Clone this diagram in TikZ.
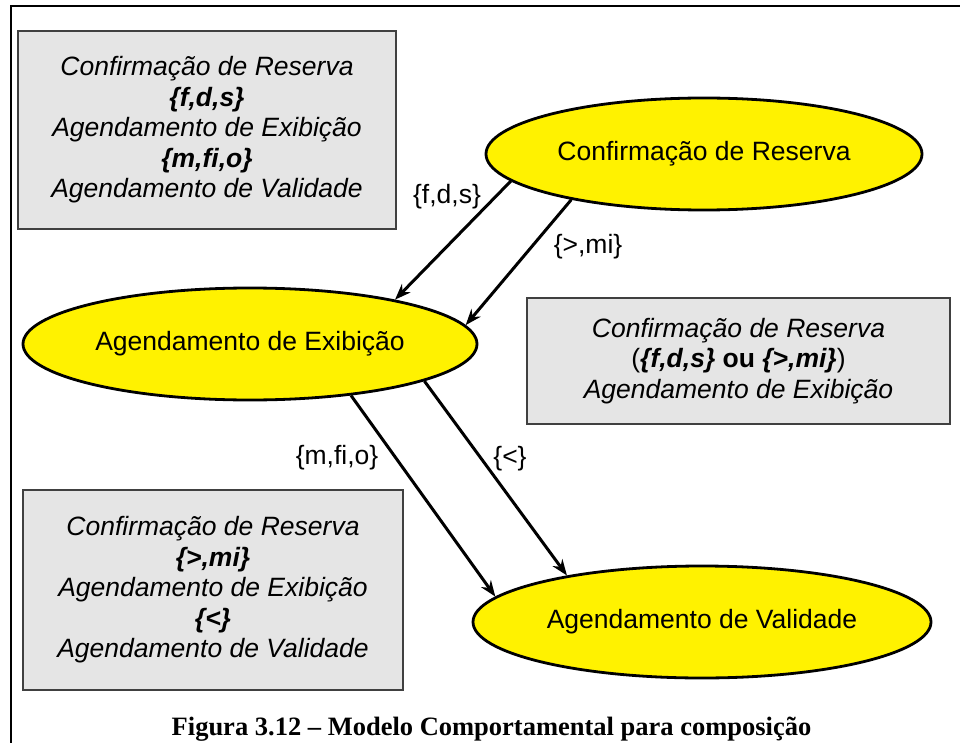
\documentclass[tikz,border=0pt]{standalone}
\usepackage{fontspec}
\setmainfont{Liberation Serif}
\setsansfont{Liberation Sans}
\usetikzlibrary{shapes.geometric,arrows.meta}
\begin{document}
\begin{tikzpicture}[x=1pt,y=-1pt,
  txt/.style={font=\sffamily\fontsize{26.5}{30.5}\selectfont},
  oval/.style={ellipse,draw=black,line width=2.8pt,fill=yellow,inner sep=0pt,txt},
  infobox/.style={rectangle,draw=black!75,line width=1.8pt,fill=black!10,inner sep=0pt,align=center,txt},
  lbl/.style={txt,inner sep=0pt},
  conn/.style={line width=3pt,-{Stealth[length=16pt,width=12pt]}},
  frame/.style={line width=2.5pt}]
\useasboundingbox (0,0) rectangle (960,743);
\draw[frame] (960,6) -- (11,6) -- (11,743);

\node[infobox,minimum width=378pt,minimum height=198pt] (b1) at (207,130)
  {\itshape Confirmação de Reserva\\ \bfseries\itshape \{f,d,s\}\\ \itshape Agendamento de Exibição\\ \bfseries\itshape \{m,fi,o\}\\ \itshape Agendamento de Validade};
\node[infobox,minimum width=423pt,minimum height=126pt] (b2) at (738.5,361)
  {\itshape Confirmação de Reserva\\ ({\bfseries\itshape \{f,d,s\}} {\bfseries ou} {\bfseries\itshape \{>,mi\}})\\ \itshape Agendamento de Exibição};
\node[infobox,minimum width=380pt,minimum height=200pt] (b3) at (213,590)
  {\itshape Confirmação de Reserva\\ \bfseries\itshape \{>,mi\}\\ \itshape Agendamento de Exibição\\ \bfseries\itshape \{<\}\\ \itshape Agendamento de Validade};

\node[oval,minimum width=436pt,minimum height=112pt] (cr) at (704,154) {Confirmação de Reserva};
\node[oval,minimum width=454pt,minimum height=112pt] (ae) at (250,344) {Agendamento de Exibição};
\node[oval,minimum width=458pt,minimum height=112pt] (av) at (702,622) {Agendamento de Validade};

\draw[conn] (cr.188.8) -- (ae.17.8);
\draw[conn] (cr.199.9) -- (ae.5.8);
\draw[conn] (ae.333.2) -- (av.173.2);
\draw[conn] (ae.348.2) -- (av.161.4);

\node[lbl] (l1) at (447,197) {\{f,d,s\}};
\node[lbl] (l2) at (588,247) {\{>,mi\}};
\node[lbl] (l3) at (337,458) {\{m,fi,o\}};
\node[lbl] (l4) at (510,459) {\{<\}};

\node[font=\rmfamily\bfseries\fontsize{26.5}{30}\selectfont,inner sep=0pt] (cap) at (491.5,729) {Figura 3.12 – Modelo Comportamental para composição};
\end{tikzpicture}
\end{document}
